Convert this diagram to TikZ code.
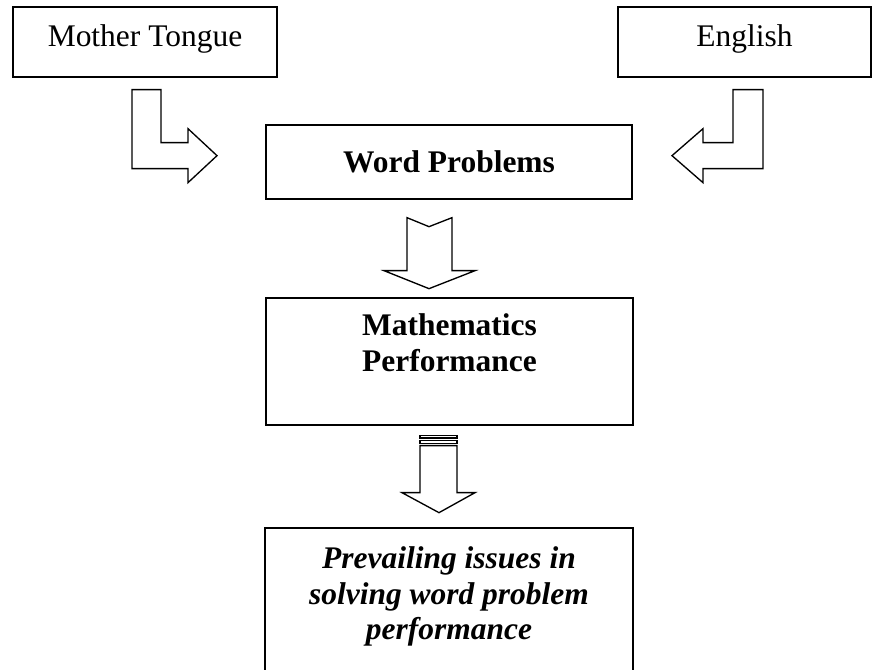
\documentclass[tikz,border=0pt]{standalone}
\usepackage{fontspec}
\setmainfont{Liberation Serif}

\begin{document}
\begin{tikzpicture}[
  x=0.75pt, y=-0.75pt,
  box/.style={draw, line width=1pt, inner sep=0pt, anchor=base, align=flush center,
    font=\fontsize{23.6pt}{27pt}\selectfont},
  langbox/.style={box, text height=30pt, text depth=22.5pt},
  blockarrow/.style={draw, line width=1pt, fill=white, line join=miter},
]
\useasboundingbox (0,0) rectangle (872,670);

% Row 1 — the two languages
\node[langbox, text width=198pt] (mt) at (145,47) {Mother Tongue};
\node[langbox, text width=189.75pt] (en) at (744.5,47) {English};

% Main column
\node[box, text width=274.5pt, text height=36pt, text depth=19.5pt]
  (wp) at (449,173) {\bfseries Word Problems};
\node[box, text width=275.25pt, text height=28.5pt, text depth=66.75pt]
  (mp) at (449.5,336) {\bfseries Mathematics\\Performance};
% runs past the lower edge of the page
\node[box, text width=276pt, text height=30pt, text depth=84pt]
  (pi) at (449,568) {\bfseries\itshape Prevailing issues in\\solving word problem\\performance};

% Bent arrows into Word Problems
\draw[blockarrow, shift={(mt.south)}] (-13,12) -- (16,12) -- (16,65) -- (43,65)
  -- (43,51) -- (72,78) -- (43,105) -- (43,91) -- (-13,91) -- cycle;
\draw[blockarrow, shift={(en.south)}] (18.5,12) -- (-11.5,12) -- (-11.5,65) -- (-41.5,65)
  -- (-41.5,51) -- (-72.5,78) -- (-41.5,105) -- (-41.5,91) -- (18.5,91) -- cycle;

% Notched arrow down to Mathematics Performance
\draw[blockarrow, shift={(wp.south)}] (-42,18) -- (-20,27) -- (3,18) -- (3,71)
  -- (26,71) -- (-20,89) -- (-65,71) -- (-42,71) -- cycle;

% Striped arrow down to the issues
\draw[blockarrow, shift={(mp.south)}] (-29.5,10) rectangle (7.5,12.5);
\draw[blockarrow, shift={(mp.south)}] (-29.5,15) rectangle (7.5,18);
\draw[blockarrow, shift={(mp.south)}] (-29.5,20) -- (7.5,20) -- (7.5,67)
  -- (25.5,67) -- (-10.5,87) -- (-47.5,67) -- (-29.5,67) -- cycle;

\end{tikzpicture}
\end{document}
